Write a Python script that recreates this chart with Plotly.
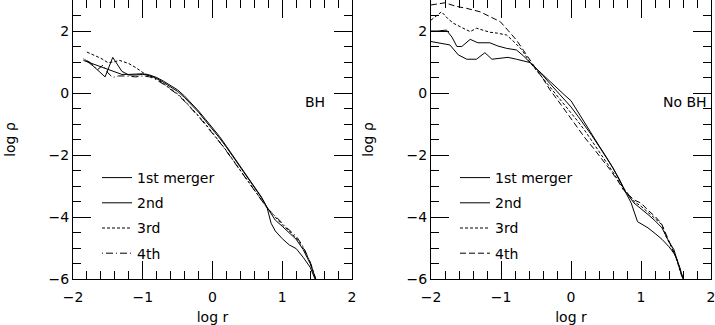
import plotly.graph_objects as go

# ---------------- data: left panel (BH) ----------------
bh1_x = [-1.85, -1.75, -1.62, -1.5, -1.4, -1.3, -1.2, -1.1, -1.0, -0.9, -0.8, -0.7, -0.6, -0.5, -0.4, -0.3, -0.2, -0.1, 0.0, 0.1, 0.2, 0.3, 0.4, 0.5, 0.6, 0.7, 0.78, 0.84, 0.9, 1.0, 1.1, 1.2, 1.3, 1.4, 1.47]
bh1_y = [1.05, 0.97, 0.88, 0.78, 0.68, 0.6, 0.6, 0.62, 0.62, 0.58, 0.5, 0.38, 0.25, 0.1, -0.1, -0.33, -0.58, -0.85, -1.12, -1.4, -1.72, -2.05, -2.38, -2.7, -3.02, -3.35, -3.68, -4.2, -4.45, -4.7, -4.9, -5.02, -5.3, -5.62, -6.0]

bh2_x = [-1.83, -1.7, -1.54, -1.43, -1.3, -1.2, -1.1, -1.0, -0.9, -0.8, -0.7, -0.6, -0.5, -0.4, -0.3, -0.2, -0.1, 0.0, 0.1, 0.2, 0.3, 0.4, 0.5, 0.6, 0.7, 0.78, 0.9, 1.0, 1.1, 1.2, 1.3, 1.4, 1.48]
bh2_y = [1.08, 0.85, 0.52, 1.15, 0.7, 0.58, 0.58, 0.6, 0.56, 0.47, 0.34, 0.2, 0.05, -0.15, -0.38, -0.62, -0.9, -1.17, -1.45, -1.75, -2.07, -2.4, -2.73, -3.05, -3.37, -3.68, -4.1, -4.3, -4.5, -4.72, -5.05, -5.5, -6.0]

bh3_x = [-1.8, -1.7, -1.6, -1.5, -1.42, -1.33, -1.2, -1.1, -1.0, -0.9, -0.8, -0.7, -0.6, -0.5, -0.4, -0.3, -0.2, -0.1, 0.0, 0.1, 0.2, 0.3, 0.4, 0.5, 0.6, 0.7, 0.78, 0.9, 1.0, 1.1, 1.2, 1.3, 1.4, 1.48]
bh3_y = [1.32, 1.22, 1.12, 0.98, 1.0, 1.05, 0.95, 0.82, 0.66, 0.55, 0.45, 0.3, 0.14, -0.03, -0.25, -0.48, -0.74, -1.0, -1.28, -1.56, -1.86, -2.18, -2.5, -2.83, -3.14, -3.44, -3.7, -4.0, -4.25, -4.45, -4.68, -5.0, -5.45, -6.0]

bh4_x = [-1.85, -1.75, -1.65, -1.57, -1.5, -1.43, -1.35, -1.25, -1.1, -1.0, -0.9, -0.8, -0.7, -0.6, -0.5, -0.4, -0.3, -0.2, -0.1, 0.0, 0.1, 0.2, 0.3, 0.4, 0.5, 0.6, 0.7, 0.78, 0.9, 1.0, 1.1, 1.2, 1.3, 1.4, 1.48]
bh4_y = [1.1, 0.98, 0.75, 0.9, 0.65, 0.5, 0.55, 0.55, 0.52, 0.55, 0.52, 0.42, 0.28, 0.12, -0.05, -0.27, -0.5, -0.76, -1.03, -1.3, -1.58, -1.88, -2.2, -2.52, -2.85, -3.15, -3.45, -3.7, -3.98, -4.2, -4.42, -4.62, -4.95, -5.45, -6.0]

# ---------------- data: right panel (No BH) ----------------
nb1_x = [-2.0, -1.9, -1.8, -1.73, -1.61, -1.49, -1.35, -1.23, -1.13, -1.0, -0.9, -0.78, -0.68, -0.58, -0.5, -0.4, -0.3, -0.2, -0.1, 0.0, 0.1, 0.2, 0.3, 0.4, 0.5, 0.6, 0.7, 0.77, 0.86, 0.95, 1.1, 1.2, 1.3, 1.4, 1.48, 1.55, 1.6]
nb1_y = [1.66, 1.62, 1.58, 1.55, 1.23, 1.09, 1.09, 1.3, 1.09, 1.12, 1.15, 1.09, 1.04, 0.98, 0.8, 0.58, 0.36, 0.15, -0.05, -0.25, -0.62, -1.0, -1.35, -1.7, -2.05, -2.42, -2.85, -3.15, -3.55, -4.15, -4.35, -4.53, -4.72, -4.96, -5.2, -5.6, -5.98]

nb2_x = [-2.0, -1.9, -1.78, -1.7, -1.63, -1.56, -1.44, -1.33, -1.16, -1.05, -0.92, -0.78, -0.68, -0.59, -0.5, -0.4, -0.3, -0.2, -0.1, 0.0, 0.1, 0.2, 0.3, 0.4, 0.5, 0.6, 0.7, 0.77, 0.9, 1.0, 1.1, 1.2, 1.3, 1.4, 1.47, 1.53, 1.59]
nb2_y = [2.0, 2.0, 2.03, 1.8, 1.5, 1.5, 1.73, 1.62, 1.62, 1.52, 1.44, 1.39, 1.2, 1.0, 0.8, 0.56, 0.3, 0.04, -0.22, -0.45, -0.75, -1.05, -1.38, -1.72, -2.05, -2.42, -2.82, -3.15, -3.55, -3.72, -3.92, -4.12, -4.35, -4.8, -5.05, -5.5, -5.95]

nb3_x = [-2.0, -1.92, -1.85, -1.76, -1.68, -1.55, -1.44, -1.35, -1.25, -1.16, -1.05, -0.92, -0.8, -0.7, -0.59, -0.5, -0.4, -0.3, -0.2, -0.1, 0.0, 0.1, 0.2, 0.3, 0.4, 0.5, 0.6, 0.7, 0.77, 0.9, 1.0, 1.1, 1.2, 1.3, 1.35, 1.42, 1.5, 1.58]
nb3_y = [2.35, 2.5, 2.62, 2.4, 2.25, 2.1, 1.98, 2.09, 2.03, 1.96, 1.93, 1.87, 1.62, 1.39, 1.0, 0.75, 0.48, 0.2, -0.08, -0.35, -0.62, -0.92, -1.22, -1.55, -1.88, -2.2, -2.55, -2.92, -3.13, -3.5, -3.65, -3.85, -4.05, -4.25, -4.6, -4.9, -5.3, -5.9]

nb4_x = [-2.0, -1.9, -1.8, -1.65, -1.49, -1.3, -1.15, -1.01, -0.9, -0.78, -0.68, -0.59, -0.5, -0.4, -0.3, -0.2, -0.1, 0.0, 0.1, 0.2, 0.32, 0.44, 0.56, 0.66, 0.75, 0.9, 1.0, 1.1, 1.2, 1.29, 1.35, 1.45, 1.52, 1.6]
nb4_y = [2.84, 2.88, 2.91, 2.8, 2.73, 2.62, 2.45, 2.3, 2.02, 1.71, 1.38, 1.06, 0.78, 0.46, 0.1, -0.2, -0.52, -0.85, -1.15, -1.45, -1.78, -2.12, -2.48, -2.8, -3.13, -3.45, -3.55, -3.78, -3.98, -4.2, -4.5, -5.0, -5.4, -6.0]

names = ["1st merger", "2nd", "3rd", "4th"]
x_ticks = [-2, -1, 0, 1, 2]
y_ticks = [-6, -4, -2, 0, 2]

FONT = "DejaVu Sans"
W, H = 715, 325

left_dash = ["solid", "solid", "3px,2px", "1px,3px,7px,3px"]
right_dash = ["solid", "solid", "3px,2px", "6px,3px"]

fig = go.Figure()
left = [(bh1_x, bh1_y), (bh2_x, bh2_y), (bh3_x, bh3_y), (bh4_x, bh4_y)]
right = [(nb1_x, nb1_y), (nb2_x, nb2_y), (nb3_x, nb3_y), (nb4_x, nb4_y)]
for i, (xs, ys) in enumerate(left):
    fig.add_trace(go.Scatter(x=xs, y=ys, mode="lines", name=names[i],
                             line=dict(color="black", width=1, dash=left_dash[i]),
                             xaxis="x", yaxis="y", legend="legend",
                             legendgroup="l%d" % i))
for i, (xs, ys) in enumerate(right):
    fig.add_trace(go.Scatter(x=xs, y=ys, mode="lines", name=names[i],
                             line=dict(color="black", width=1, dash=right_dash[i]),
                             xaxis="x2", yaxis="y2", legend="legend2",
                             legendgroup="r%d" % i))

def xax(domain, anchor):
    return dict(domain=domain, anchor=anchor, range=[-2, 2], tickvals=x_ticks,
                automargin=False, ticklabelstandoff=5, ticklabeloverflow="allow",
                ticks="inside", ticklen=18, tickwidth=1, tickcolor="black",
                minor=dict(dtick=0.2, tick0=0, ticks="inside", ticklen=8, tickcolor="black"),
                showline=True, linecolor="black", linewidth=1, mirror="ticks",
                showgrid=False, zeroline=False,
                tickfont=dict(family=FONT, size=14, color="black"),
                title=dict(text="log r", font=dict(family=FONT, size=14, color="black"), standoff=9))

def yax(domain, anchor):
    return dict(domain=domain, anchor=anchor, range=[-6, 3], tickvals=y_ticks,
                automargin=False,
                ticks="inside", ticklen=18, tickwidth=1, tickcolor="black",
                minor=dict(dtick=0.5, tick0=0, ticks="inside", ticklen=8, tickcolor="black"),
                showline=True, linecolor="black", linewidth=1, mirror="ticks",
                showgrid=False, zeroline=False,
                tickfont=dict(family=FONT, size=14, color="black"),
                title=dict(text="log \u03c1", font=dict(family=FONT, size=14, color="black"), standoff=29))

leg_common = dict(bgcolor="rgba(0,0,0,0)", borderwidth=0, tracegroupgap=4,
                  font=dict(family=FONT, size=14, color="black"),
                  xanchor="left", yanchor="top")

fig.update_layout(
    width=W, height=H,
    margin=dict(l=0, r=0, t=0, b=46),
    plot_bgcolor="white", paper_bgcolor="white",
    xaxis=xax([73 / W, 352 / W], "y"),
    yaxis=yax([0, 1], "x"),
    xaxis2=xax([431 / W, 711 / W], "y2"),
    yaxis2=yax([0, 1], "x2"),
    legend=dict(x=97 / W, y=1 - 162 / 279, **leg_common),
    legend2=dict(x=455 / W, y=1 - 162 / 279, **leg_common),
    annotations=[
        dict(text="BH", x=1.47, y=-0.29, xref="x", yref="y", showarrow=False,
             font=dict(family=FONT, size=14, color="black")),
        dict(text="No BH", x=1.97, y=-0.29, xref="x2", yref="y2", showarrow=False,
             xanchor="right", font=dict(family=FONT, size=14, color="black")),
    ],
)

fig.write_html("out.html", config={"displayModeBar": False},
               post_script="document.body.style.margin='0';document.body.style.overflow='hidden';")
